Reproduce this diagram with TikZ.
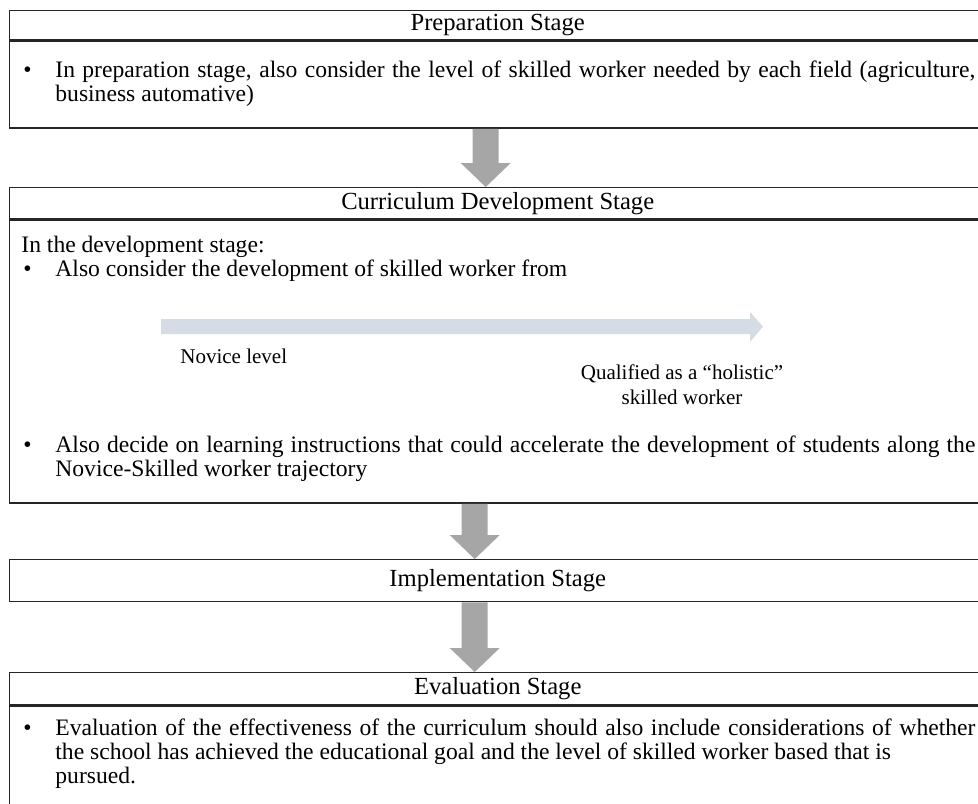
\documentclass[tikz,border=0pt]{standalone}
\usepackage{fontspec}
\setmainfont{Liberation Serif}
\usetikzlibrary{positioning,calc}
\definecolor{cLine}{HTML}{262626}
\definecolor{cArrow}{HTML}{A6A6A6}
\definecolor{cTraj}{HTML}{D6DCE5}

\newcommand{\bodyfont}{\fontsize{11.8}{12}\selectfont\lineskiplimit=-\maxdimen}
\newcommand{\headfont}{\fontsize{12.3}{13}\selectfont}
\newcommand{\labelfont}{\fontsize{10.5}{12.5}\selectfont}
% gray block arrow from one stage box down to the next, #3 = x shift from the box centre
\newcommand{\stagearrow}[3]{%
  \coordinate (sa top) at ($(#1.south)+(#3,0)$);
  \coordinate (sa tip) at ($(#2.north)+(#3,0)$);
  \fill[stagearr] ($(sa top)+(-13,0)$) -- ($(sa top)+(13,0)$) -- ($(sa tip)+(13,-24)$)
    -- ($(sa tip)+(25,-24)$) -- (sa tip) -- ($(sa tip)+(-25,-24)$) -- ($(sa tip)+(-13,-24)$) -- cycle;}

\begin{document}
\begin{tikzpicture}[x=0.5pt,y=-0.5pt,font=\bodyfont,
    frame/.style={draw=cLine,line width=0.7pt,minimum width=488pt,inner sep=0pt,anchor=north west,font=\headfont},
    body/.style={anchor=base west,inner sep=0pt,text width=460pt,align=justify},
    plain/.style={anchor=base west,inner sep=0pt},
    small/.style={font=\labelfont,inner sep=0pt},
    stagearr/.style={fill=cArrow}]
  \useasboundingbox (0,0) rectangle (978,803);

  % preparation stage
  \node[frame,minimum height=14.5pt] (prephead) at (9,10) {Preparation Stage};
  \node[frame,minimum height=43.5pt] (prep) at (prephead.south west) {};
  \node[plain] (prepdot) at (23,77) {\textbullet};
  \node[body] (preptext) at (55,77) {In preparation stage, also consider the level of skilled worker needed by each field (agriculture,\linebreak business automative)};

  % curriculum development stage
  \node[frame,minimum height=15.5pt] (curhead) at (9,187) {Curriculum Development Stage};
  \node[frame,minimum height=141.5pt] (cur) at (curhead.south west) {};
  \node[plain] (curintro) at (21,252) {In the development stage:};
  \node[plain] (curdot1) at (23,276) {\textbullet};
  \node[plain] (curtext1) at (55,276) {Also consider the development of skilled worker from};
  \coordinate (trajstart) at (161,326.5);
  \coordinate (trajend) at (763,326.5);
  \fill[cTraj] ($(trajstart)+(0,-7.5)$) -- ($(trajend)+(-13,-7.5)$) -- ($(trajend)+(-13,-14.5)$)
    -- (trajend) -- ($(trajend)+(-13,15.5)$) -- ($(trajend)+(-13,7.5)$) -- ($(trajstart)+(0,7.5)$) -- cycle;
  \node[small,anchor=base west] (novice) at (180,363) {Novice level};
  \node[small,anchor=north,align=center] (holistic) at (682,364) {Qualified as a “holistic”\\skilled worker};
  \node[plain] (curdot2) at (23,452) {\textbullet};
  \node[body] (curtext2) at (55,452) {Also decide on learning instructions that could accelerate the development of students along the\linebreak Novice-Skilled worker trajectory};

  % implementation stage
  \node[frame,minimum height=21pt] (impl) at (9,559) {Implementation Stage};

  % evaluation stage
  \node[frame,minimum height=16pt] (evalhead) at (9,672) {Evaluation Stage};
  \node[frame,minimum height=63pt] (eval) at (evalhead.south west) {};
  \node[plain] (evaldot) at (23,735) {\textbullet};
  \node[body] (evaltext) at (55,735) {Evaluation of the effectiveness of the curriculum should also include considerations of whether\linebreak the school has achieved the educational goal and the level of skilled worker based that is\newline pursued.};

  \stagearrow{prep}{curhead}{-12}
  \stagearrow{cur}{impl}{-23}
  \stagearrow{impl}{evalhead}{-23}
\end{tikzpicture}
\end{document}
